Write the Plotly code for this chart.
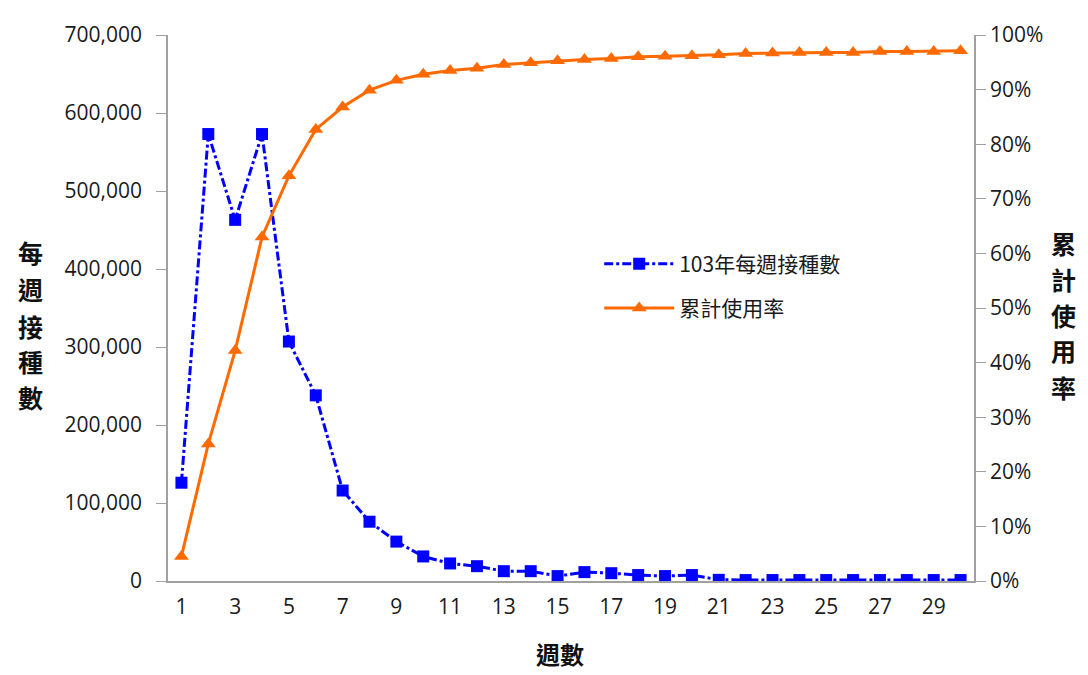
import plotly.graph_objects as go

weeks = list(range(1, 31))
weekly_doses = [126000, 573000, 463000, 573000, 307000, 238000, 116000, 76000, 50500, 31500,
                22500, 19000, 12600, 12600, 6300, 11400, 10000, 7600, 6300, 7600,
                1500, 1200, 1200, 1200, 1200, 1200, 1200, 1200, 1200, 1200]
cum_rate = [4.5, 25.1, 42.2, 63.0, 74.2, 82.7, 86.8, 89.9, 91.7, 92.8,
            93.5, 93.9, 94.6, 94.9, 95.3, 95.5, 95.7, 96.0, 96.1, 96.2,
            96.4, 96.6, 96.7, 96.8, 96.8, 96.8, 97.0, 97.0, 97.0, 97.1]
left_ticks = [0, 100000, 200000, 300000, 400000, 500000, 600000, 700000]
right_ticks = [0, 10, 20, 30, 40, 50, 60, 70, 80, 90, 100]
x_ticks = list(range(1, 31, 2))
left_title = ["每", "週", "接", "種", "數"]
right_title = ["累", "計", "使", "用", "率"]

tick_font = dict(family="Open Sans, Liberation Sans, sans-serif", size=21, color="#1a1a1a")
cjk = "Noto Sans CJK TC"

fig = go.Figure()
fig.add_trace(go.Scatter(
    x=weeks, y=weekly_doses, name="103年每週接種數", mode="lines+markers",
    line=dict(color="#0000FF", width=3, dash="dashdot"),
    marker=dict(symbol="square", size=12, color="#0000FF"),
    legendgroup="a", yaxis="y"))
fig.add_trace(go.Scatter(
    x=weeks, y=cum_rate, name="累計使用率", mode="lines+markers",
    line=dict(color="#FF6A00", width=3),
    marker=dict(symbol="triangle-up", size=13, color="#FF6A00"),
    legendgroup="b", yaxis="y2"))

fig.update_layout(
    width=1080, height=667,
    margin=dict(l=160, r=114, t=19, b=94),
    paper_bgcolor="white", plot_bgcolor="white",
    showlegend=True,
    legend=dict(x=0.535, y=0.618, xanchor="left", yanchor="top",
                font=dict(family=cjk, size=21, color="#1a1a1a"),
                bgcolor="rgba(0,0,0,0)", tracegroupgap=14, itemwidth=70),
    xaxis=dict(range=[0.5, 30.5], tickmode="array", tickvals=x_ticks,
               ticktext=[str(v) for v in x_ticks], tickfont=tick_font,
               showgrid=False, zeroline=False, showline=True, linecolor="#A0A0A0",
               linewidth=1.5, ticks="", ticklen=0, ticklabelstandoff=6),
    yaxis=dict(range=[0, 700000], tickmode="array", tickvals=left_ticks,
               ticktext=[f"{v:,}" for v in left_ticks], tickfont=tick_font,
               showgrid=False, zeroline=False, showline=True, linecolor="#A0A0A0",
               linewidth=1.5, ticks="outside", ticklen=10, tickcolor="#A0A0A0",
               ticklabelstandoff=10),
    yaxis2=dict(range=[0, 100], overlaying="y", side="right", tickmode="array",
                tickvals=right_ticks, ticktext=[f"{v}%" for v in right_ticks],
                tickfont=tick_font, showgrid=False, zeroline=False, showline=True,
                linecolor="#A0A0A0", linewidth=1.5, ticks="outside", ticklen=10,
                tickcolor="#A0A0A0"),
)

# plot area (screen): x 168..974, y 27..581
def px_to_paper(px, py):
    return (px - 168) / 806.0, (581 - py) / 554.0

left_y = [247, 285, 322, 358, 394]
for ch, py in zip(left_title, left_y):
    xp, yp = px_to_paper(30, py)
    fig.add_annotation(text=f"<b>{ch}</b>", xref="paper", yref="paper", x=xp, y=yp,
                       xanchor="center", yanchor="middle", showarrow=False,
                       font=dict(family=cjk, size=25, color="#111111"))
right_y = [238, 275, 311, 347, 384]
for ch, py in zip(right_title, right_y):
    xp, yp = px_to_paper(1063, py)
    fig.add_annotation(text=f"<b>{ch}</b>", xref="paper", yref="paper", x=xp, y=yp,
                       xanchor="center", yanchor="middle", showarrow=False,
                       font=dict(family=cjk, size=25, color="#111111"))
xp, yp = px_to_paper(560, 655)
fig.add_annotation(text="<b>週數</b>", xref="paper", yref="paper", x=xp, y=yp,
                   xanchor="center", yanchor="middle", showarrow=False,
                   font=dict(family=cjk, size=24, color="#111111"))

fig.write_html("out.html")
